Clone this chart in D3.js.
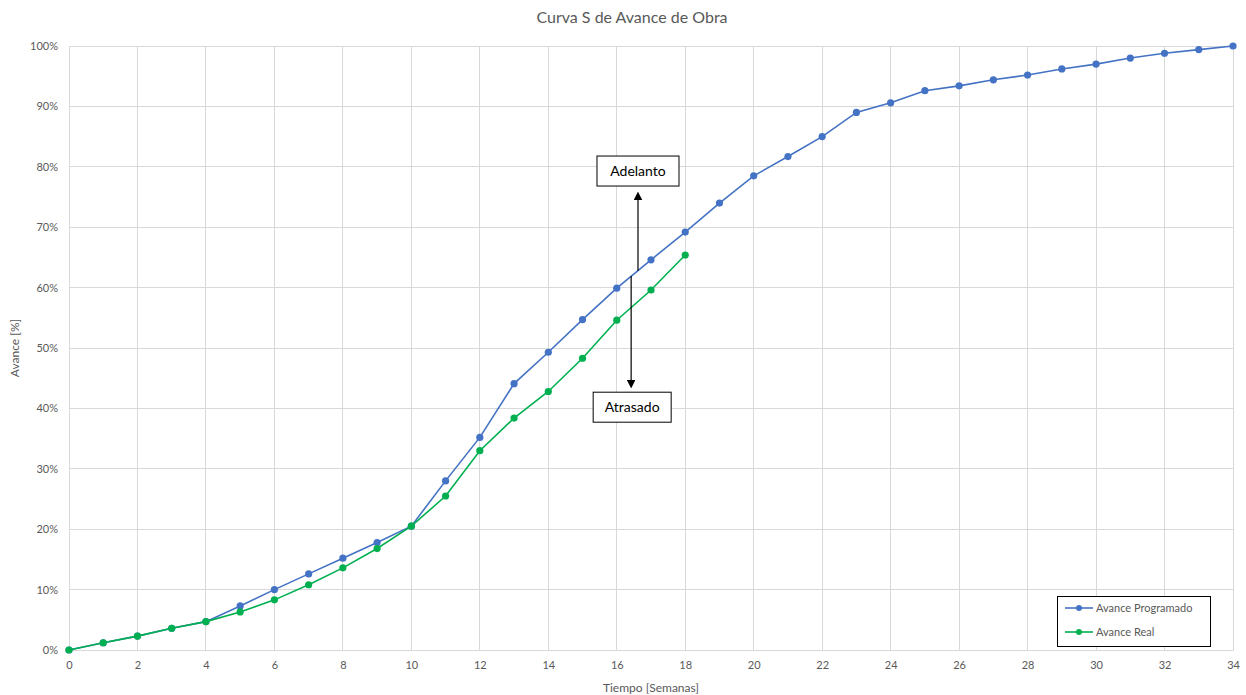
<!DOCTYPE html>
<html><head><meta charset="utf-8">
<script src="https://cdn.jsdelivr.net/npm/d3@7"></script>
<style>body{margin:0;background:#fff;}svg{display:block;font-family:Lato,"Open Sans",sans-serif;}</style>
</head><body>
<svg id="c" width="1246" height="695"></svg>
<script>
const weeks = d3.range(0, 35);
const programado = [0,1.2,2.3,3.6,4.7,7.3,10.0,12.6,15.2,17.8,20.5,28.0,35.2,44.1,49.3,54.7,59.9,64.6,69.2,74.0,78.5,81.7,85.0,89.0,90.6,92.6,93.4,94.4,95.2,96.2,97.0,98.0,98.8,99.4,100];
const real = [0,1.2,2.3,3.6,4.7,6.3,8.3,10.8,13.6,16.8,20.5,25.5,33.0,38.4,42.8,48.3,54.6,59.6,65.4];
const xTicks = d3.range(0, 35, 2);
const yTicks = d3.range(0, 101, 10);
const seriesNames = ["Avance Programado", "Avance Real"];
const colors = ["#4472C4", "#00B050"];

const svg = d3.select("#c");
const x = d3.scaleLinear().domain([0,34]).range([69,1233]);
const y = d3.scaleLinear().domain([0,100]).range([650,46]);
const grid = "#d9d9d9", txt = "#595959";

// gridlines
svg.append("g").selectAll("line").data(yTicks).join("line")
  .attr("x1", x(0)).attr("x2", x(34)).attr("y1", d=>y(d)).attr("y2", d=>y(d))
  .attr("stroke", grid).attr("stroke-width", 1).attr("shape-rendering","crispEdges");
svg.append("g").selectAll("line").data(xTicks).join("line")
  .attr("x1", d=>x(d)).attr("x2", d=>x(d)).attr("y1", y(0)).attr("y2", y(100))
  .attr("stroke", grid).attr("stroke-width", 1).attr("shape-rendering","crispEdges");

// axes
const xAxis = svg.append("g").attr("transform", `translate(0,${y(0)})`)
  .call(d3.axisBottom(x).tickValues(xTicks).tickSize(0).tickPadding(11));
xAxis.select(".domain").attr("stroke", grid);
xAxis.selectAll("text").attr("fill", txt).style("font-size","11px").style("font-family","Lato,sans-serif");
const yAxis = svg.append("g").attr("transform", `translate(${x(0)},0)`)
  .call(d3.axisLeft(y).tickValues(yTicks).tickSize(0).tickPadding(11).tickFormat(d=>d+"%"));
yAxis.select(".domain").attr("stroke", grid);
yAxis.selectAll("text").attr("fill", txt).style("font-size","11px").style("font-family","Lato,sans-serif");

// title and axis titles
svg.append("text").attr("x", 632).attr("y", 23).attr("text-anchor","middle")
  .attr("fill", txt).style("font-size","16px").text("Curva S de Avance de Obra");
svg.append("text").attr("x", 651).attr("y", 692).attr("text-anchor","middle")
  .attr("fill", txt).style("font-size","12px").text("Tiempo [Semanas]");
svg.append("text").attr("transform","translate(19,348) rotate(-90)").attr("text-anchor","middle")
  .attr("fill", txt).style("font-size","12px").text("Avance [%]");

// series
const series = [programado, real];
const line = d3.line().x((d,i)=>x(weeks[i])).y(d=>y(d));
series.forEach((s, k) => {
  svg.append("path").datum(s).attr("d", line).attr("fill","none")
    .attr("stroke", colors[k]).attr("stroke-width", 1.6);
  svg.append("g").selectAll("circle").data(s).join("circle")
    .attr("cx", (d,i)=>x(weeks[i])).attr("cy", d=>y(d)).attr("r", 3.6)
    .attr("fill", colors[k]);
});

// annotations
svg.append("defs").append("marker").attr("id","arr").attr("viewBox","0 0 10 10")
  .attr("refX",5).attr("refY",5).attr("markerWidth",7).attr("markerHeight",7).attr("orient","auto-start-reverse")
  .append("path").attr("d","M0,0 L10,5 L0,10 z").attr("fill","#000");
svg.append("line").attr("x1", x(16.62)).attr("x2", x(16.62)).attr("y1", y(62.8)).attr("y2", y(75.2))
  .attr("stroke","#000").attr("stroke-width",1.2).attr("marker-end","url(#arr)");
svg.append("line").attr("x1", x(16.42)).attr("x2", x(16.42)).attr("y1", y(61.9)).attr("y2", y(44.0))
  .attr("stroke","#000").attr("stroke-width",1.2).attr("marker-end","url(#arr)");
function box(cxv, cyv, w, h, label){
  const cx = x(cxv), cy = y(cyv);
  svg.append("rect").attr("x", cx-w/2).attr("y", cy-h/2).attr("width", w).attr("height", h)
    .attr("fill","#fff").attr("stroke","#000").attr("stroke-width",1);
  svg.append("text").attr("x", cx).attr("y", cy+5).attr("text-anchor","middle")
    .attr("fill","#000").style("font-size","14px").text(label);
}
box(16.62, 79.3, 82, 30, "Adelanto");
box(16.45, 40.2, 78, 30, "Atrasado");

// legend
const lg = svg.append("g");
lg.append("rect").attr("x",1057.5).attr("y",596.5).attr("width",153).attr("height",50)
  .attr("fill","#fff").attr("stroke","#000").attr("stroke-width",1);
seriesNames.forEach((n,k)=>{
  const ly = 608 + k*24;
  lg.append("line").attr("x1",1065).attr("x2",1093).attr("y1",ly).attr("y2",ly)
    .attr("stroke",colors[k]).attr("stroke-width",1.6);
  lg.append("circle").attr("cx",1079).attr("cy",ly).attr("r",3).attr("fill",colors[k]);
  lg.append("text").attr("x",1096).attr("y",ly+4).attr("fill",txt).style("font-size","11px").text(n);
});
</script>
</body></html>
